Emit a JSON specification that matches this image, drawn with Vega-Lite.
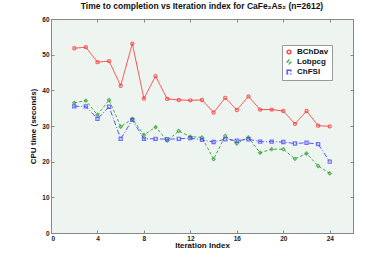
{
  "$schema": "https://vega.github.io/schema/vega-lite/v6.json",
  "width": 302,
  "height": 214,
  "autosize": "none",
  "padding": {"left": 51, "top": 19, "right": 37, "bottom": 29},
  "background": "white",
  "title": {"text": "Time to completion vs Iteration index for CaFe₂As₂ (n=2612)", "font": "Liberation Sans", "fontSize": 8.5, "fontWeight": "bold", "color": "#111", "offset": 6},
  "config": {
    "view": {"fill": "#eef5f0", "stroke": "#888888"},
    "axis": {"labelFont": "Liberation Sans", "labelFontSize": 6.5, "labelFontWeight": "bold", "labelColor": "#222", "titleFont": "Liberation Sans", "titleFontSize": 8, "titleFontWeight": "bold", "titleColor": "#111", "domainColor": "#888888", "tickColor": "#888888", "grid": false, "tickSize": -3, "labelPadding": 5},
    "legend": {"orient": "none", "legendX": 231, "legendY": 26, "fillColor": "white", "strokeColor": "#999999", "padding": 3, "labelFont": "Liberation Sans", "labelFontSize": 8, "labelFontWeight": "bold", "labelColor": "#111", "symbolSize": 14, "rowPadding": 0, "title": null}
  },
  "data": {"values": [
    {"i":2,"m":"BChDav","t":51.8},{"i":3,"m":"BChDav","t":52.1},{"i":4,"m":"BChDav","t":47.9},{"i":5,"m":"BChDav","t":48.2},{"i":6,"m":"BChDav","t":41.3},{"i":7,"m":"BChDav","t":53.1},{"i":8,"m":"BChDav","t":37.7},{"i":9,"m":"BChDav","t":44.0},{"i":10,"m":"BChDav","t":37.6},{"i":11,"m":"BChDav","t":37.3},{"i":12,"m":"BChDav","t":37.2},{"i":13,"m":"BChDav","t":37.3},{"i":14,"m":"BChDav","t":33.8},{"i":15,"m":"BChDav","t":37.9},{"i":16,"m":"BChDav","t":34.5},{"i":17,"m":"BChDav","t":38.3},{"i":18,"m":"BChDav","t":34.6},{"i":19,"m":"BChDav","t":34.6},{"i":20,"m":"BChDav","t":34.2},{"i":21,"m":"BChDav","t":30.6},{"i":22,"m":"BChDav","t":34.2},{"i":23,"m":"BChDav","t":30.1},{"i":24,"m":"BChDav","t":29.9},
    {"i":2,"m":"Lobpcg","t":36.5},{"i":3,"m":"Lobpcg","t":37.1},{"i":4,"m":"Lobpcg","t":33.1},{"i":5,"m":"Lobpcg","t":37.3},{"i":6,"m":"Lobpcg","t":29.8},{"i":7,"m":"Lobpcg","t":32.0},{"i":8,"m":"Lobpcg","t":27.5},{"i":9,"m":"Lobpcg","t":29.7},{"i":10,"m":"Lobpcg","t":25.9},{"i":11,"m":"Lobpcg","t":28.6},{"i":12,"m":"Lobpcg","t":27.0},{"i":13,"m":"Lobpcg","t":26.8},{"i":14,"m":"Lobpcg","t":20.7},{"i":15,"m":"Lobpcg","t":27.2},{"i":16,"m":"Lobpcg","t":25.1},{"i":17,"m":"Lobpcg","t":26.8},{"i":18,"m":"Lobpcg","t":22.5},{"i":19,"m":"Lobpcg","t":23.5},{"i":20,"m":"Lobpcg","t":23.5},{"i":21,"m":"Lobpcg","t":20.8},{"i":22,"m":"Lobpcg","t":22.3},{"i":23,"m":"Lobpcg","t":18.8},{"i":24,"m":"Lobpcg","t":16.7},
    {"i":2,"m":"ChFSI","t":35.5},{"i":3,"m":"ChFSI","t":35.5},{"i":4,"m":"ChFSI","t":32.0},{"i":5,"m":"ChFSI","t":35.4},{"i":6,"m":"ChFSI","t":26.4},{"i":7,"m":"ChFSI","t":31.7},{"i":8,"m":"ChFSI","t":26.4},{"i":9,"m":"ChFSI","t":26.4},{"i":10,"m":"ChFSI","t":26.3},{"i":11,"m":"ChFSI","t":26.4},{"i":12,"m":"ChFSI","t":26.6},{"i":13,"m":"ChFSI","t":26.1},{"i":14,"m":"ChFSI","t":25.5},{"i":15,"m":"ChFSI","t":26.3},{"i":16,"m":"ChFSI","t":25.9},{"i":17,"m":"ChFSI","t":26.3},{"i":18,"m":"ChFSI","t":25.6},{"i":19,"m":"ChFSI","t":25.6},{"i":20,"m":"ChFSI","t":25.5},{"i":21,"m":"ChFSI","t":25.1},{"i":22,"m":"ChFSI","t":25.3},{"i":23,"m":"ChFSI","t":24.9},{"i":24,"m":"ChFSI","t":20.0}
  ]},
  "layer": [
    {
      "mark": {"type": "line", "strokeWidth": 1, "opacity": 0.85},
      "encoding": {
        "x": {"field": "i", "type": "quantitative", "scale": {"domain": [0, 26], "nice": false}, "axis": {"title": "Iteration Index", "values": [0,4,8,12,16,20,24], "titlePadding": 0}},
        "y": {"field": "t", "type": "quantitative", "scale": {"domain": [0, 60], "nice": false}, "axis": {"title": "CPU time (seconds)", "values": [0,10,20,30,40,50,60], "titlePadding": 4}},
        "color": {"field": "m", "type": "nominal", "scale": {"domain": ["BChDav","Lobpcg","ChFSI"], "range": ["#ff2a2a","#2a9a2a","#3a3aff"]}},
        "strokeDash": {"field": "m", "type": "nominal", "scale": {"domain": ["BChDav","Lobpcg","ChFSI"], "range": [[1,0],[3,2],[5,2,1,2]]}}
      }
    },
    {
      "mark": {"type": "point", "filled": false, "size": 10, "strokeWidth": 1.2},
      "encoding": {
        "x": {"field": "i", "type": "quantitative", "axis": {"orient": "top", "labels": false, "title": null, "values": [0,4,8,12,16,20,24]}},
        "y": {"field": "t", "type": "quantitative", "axis": {"orient": "right", "labels": false, "title": null, "values": [0,10,20,30,40,50,60]}},
        "color": {"field": "m", "type": "nominal"},
        "shape": {"field": "m", "type": "nominal", "scale": {"domain": ["BChDav","Lobpcg","ChFSI"], "range": ["circle","diamond","square"]}}
      }
    }
  ],
  "resolve": {"axis": {"x": "independent", "y": "independent"}}
}
